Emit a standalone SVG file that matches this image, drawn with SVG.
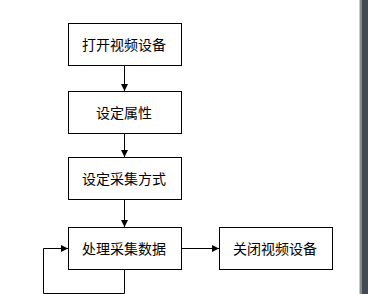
<svg xmlns="http://www.w3.org/2000/svg" width="368" height="294" viewBox="0 0 368 294">
<style>
.box{fill:#fff;stroke:#000;stroke-width:1}
.lbl{font-family:"Noto Sans CJK SC","Liberation Sans",sans-serif;font-size:14px;fill:#000;text-anchor:middle;dominant-baseline:central}
.con{fill:none;stroke:#000;stroke-width:1}
</style>
<defs>
<marker id="ah" markerWidth="7" markerHeight="7" refX="7" refY="3.5" orient="auto" markerUnits="userSpaceOnUse">
<path d="M0,0 L7,3.5 L0,7 Z" fill="#000"/>
</marker>
</defs>
<rect x="0" y="0" width="368" height="294" fill="#fff"/>
<g id="scrollbar">
<rect x="359" y="0" width="1" height="294" fill="#c8c8c8"/>
<rect x="360" y="0" width="1.5" height="294" fill="#8a8a8a"/>
<rect x="361.5" y="0" width="6.5" height="294" fill="#454a52"/>
</g>
<g id="connectors">
<path class="con" d="M124.5,65.5 V91" marker-end="url(#ah)"/>
<path class="con" d="M124.5,133.5 V157" marker-end="url(#ah)"/>
<path class="con" d="M124.5,199.5 V227" marker-end="url(#ah)"/>
<path class="con" d="M181.5,248.5 H219" marker-end="url(#ah)" stroke="#555"/>
<path class="con" d="M124.5,269.5 V293.5 H43.5 V248.5 H68" marker-end="url(#ah)"/>
</g>
<g id="n1"><rect class="box" x="68.5" y="23.5" width="113" height="42"/><text class="lbl" x="124" y="44">打开视频设备</text></g>
<g id="n2"><rect class="box" x="68.5" y="91.5" width="113" height="42"/><text class="lbl" x="124" y="112">设定属性</text></g>
<g id="n3"><rect class="box" x="68.5" y="157.5" width="113" height="42"/><text class="lbl" x="124" y="178">设定采集方式</text></g>
<g id="n4"><rect class="box" x="68.5" y="227.5" width="113" height="42"/><text class="lbl" x="124" y="248">处理采集数据</text></g>
<g id="n5"><rect class="box" x="219.5" y="227.5" width="113" height="42"/><text class="lbl" x="275" y="248">关闭视频设备</text></g>
</svg>
